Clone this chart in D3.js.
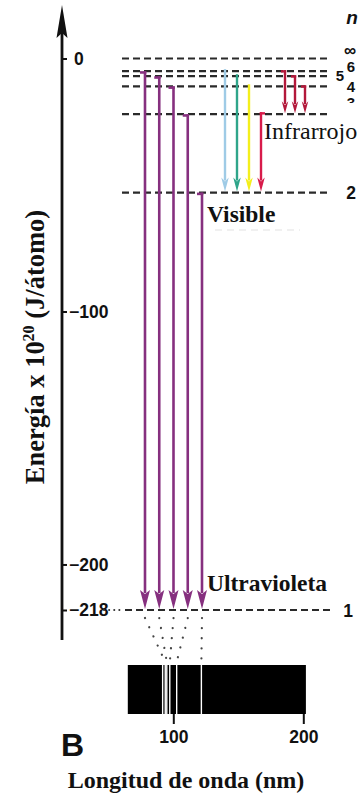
<!DOCTYPE html>
<html>
<head>
<meta charset="utf-8">
<script src="https://cdn.jsdelivr.net/npm/d3@7"></script>
<style>
  html, body { margin: 0; padding: 0; background: #fff; }
  svg { display: block; }
  .sans { font-family: "Liberation Sans", Arial, sans-serif; font-weight: bold; }
  .serif { font-family: "Liberation Serif", "Times New Roman", serif; }
</style>
</head>
<body>
<svg id="chart" width="364" height="796"></svg>
<script>
// Hydrogen energy levels (energy x 10^20 J/atom)
const levelNames    = ["∞", "6", "5", "4", "3", "2", "1"];
const levelEnergies = [0, -5, -7, -11, -22, -53, -218];
const energyTicks   = [0, -100, -200, -218];

// Emission series: upper levels that fall to the lower level
const lymanFrom   = ["6", "5", "4", "3", "2"];   // -> n = 1 (ultraviolet)
const balmerFrom  = ["6", "5", "4", "3"];        // -> n = 2 (visible)
const paschenFrom = ["6", "5", "4"];             // -> n = 3 (infrared)
const balmerColors = ["#9fcbe6", "#2fa58a", "#f4ef1c", "#d81b4a"];

// Lyman lines on the spectrum strip (nm)
const lymanWavelengths = [93.8, 95.0, 97.3, 102.6, 121.6];
const seriesLimit      = [91.8];
const spectrumRange    = [65, 202];
const wavelengthTicks  = [100, 200];

const svg = d3.select("#chart");
const energyOf = Object.fromEntries(levelNames.map((n, i) => [n, levelEnergies[i]]));

const y = d3.scaleLinear().domain([0, -218]).range([58.5, 610]);
const w = d3.scaleLinear().domain([100, 200]).range([173.3, 303.3]);
const lymanX   = d3.scalePoint().domain(lymanFrom).range([145, 202]);
const balmerX  = d3.scalePoint().domain(balmerFrom).range([225, 261]);
const paschenX = d3.scalePoint().domain(paschenFrom).range([285, 305]);

const lineLeft = 122, lineRight = 330;

// ---- energy axis ----
const axisX = 62;
svg.append("line")
  .attr("x1", axisX).attr("x2", axisX)
  .attr("y1", 30).attr("y2", 640)
  .attr("stroke", "#111").attr("stroke-width", 2.8);
svg.append("path")
  .attr("d", `M${axisX},5 L${axisX + 5.5},38 L${axisX},33 L${axisX - 5.5},38 Z`)
  .attr("fill", "#111");

const axis = d3.axisRight(y)
  .tickValues(energyTicks)
  .tickSize(5)
  .tickPadding(2)
  .tickFormat(d => d === 0 ? "0" : "\u2212" + Math.abs(d));
const gAxis = svg.append("g")
  .attr("transform", `translate(${axisX},0)`)
  .call(axis);
gAxis.select(".domain").remove();
gAxis.selectAll(".tick line").attr("stroke", "#111").attr("stroke-width", 2);
gAxis.selectAll(".tick text")
  .attr("class", "sans")
  .attr("font-size", 17.5)
  .attr("fill", "#111")
  .attr("dx", d => d === 0 ? 5 : 0);

// ---- energy level lines ----
const levelG = svg.append("g");
levelNames.forEach((n, i) => {
  const yy = y(levelEnergies[i]);
  levelG.append("line")
    .attr("x1", n === "1" ? 125 : lineLeft).attr("x2", lineRight)
    .attr("y1", yy).attr("y2", yy)
    .attr("stroke", "#2a2a2a").attr("stroke-width", 2.2)
    .attr("stroke-dasharray", "7,4");
});
// dotted leader after the -218 label
levelG.append("line")
  .attr("x1", 104).attr("x2", 124)
  .attr("y1", y(-218)).attr("y2", y(-218))
  .attr("stroke", "#333").attr("stroke-width", 2)
  .attr("stroke-linecap", "round")
  .attr("stroke-dasharray", "0.1,5");

// level names on the right (the upper ones are packed tightly)
const labelPos = { "∞": [350, -3, 17], "6": [351, 1, 15], "5": [340, 5, 15], "4": [351, 6, 15], "3": [351, -6, 15], "2": [351, 6, 17.5], "1": [348, 7, 17.5] };
levelNames.forEach((n, i) => {
  const [lx, dy, fs] = labelPos[n];
  svg.append("text")
    .attr("class", "sans")
    .attr("x", lx).attr("y", y(levelEnergies[i]) + dy)
    .attr("text-anchor", "middle")
    .attr("font-size", fs)
    .attr("fill", "#111")
    .text(n);
});
svg.append("text")
  .attr("class", "sans")
  .attr("x", 352).attr("y", 24)
  .attr("text-anchor", "middle")
  .attr("font-size", 19)
  .attr("font-style", "italic")
  .attr("fill", "#111")
  .text("n");

// ---- transition arrows ----
function arrow(g, x, yTop, yTip, color, width, headLen, headW, hook) {
  g.append("line")
    .attr("x1", x).attr("x2", x)
    .attr("y1", yTop).attr("y2", yTip - headLen + 3)
    .attr("stroke", color).attr("stroke-width", width);
  if (hook) {
    g.append("line")
      .attr("x1", x + hook).attr("x2", x + (hook > 0 ? -width / 2 : width / 2))
      .attr("y1", yTop + width / 2).attr("y2", yTop + width / 2)
      .attr("stroke", color).attr("stroke-width", width);
  }
  g.append("path")
    .attr("d", `M${x},${yTip} L${x - headW / 2},${yTip - headLen} L${x},${yTip - headLen + 4} L${x + headW / 2},${yTip - headLen} Z`)
    .attr("fill", color);
}

const arrowsG = svg.append("g");
lymanFrom.forEach(n => {
  arrow(arrowsG, lymanX(n), y(energyOf[n]), y(energyOf["1"]) - 1, "#86307f", 2.6, 19, 10, -5);
});
balmerFrom.forEach((n, i) => {
  arrow(arrowsG, balmerX(n), y(energyOf[n]) - 2, y(energyOf["2"]) - 1, balmerColors[i], 2.4, 14, 7.5, n === "3" ? 4 : 0);
});
paschenFrom.forEach(n => {
  arrow(arrowsG, paschenX(n), y(energyOf[n]) - 1, y(energyOf["3"]) - 1, "#b3183a", 2.4, 12, 6.5, -4);
});

// ---- region labels ----
svg.append("rect").attr("x", 335).attr("y", 103).attr("width", 29).attr("height", 14).attr("fill", "#fff");
svg.append("rect").attr("x", 263).attr("y", 118).attr("width", 101).attr("height", 30).attr("fill", "#fff");
svg.append("text").attr("class", "serif")
  .attr("x", 264).attr("y", 139)
  .attr("font-size", 24).attr("fill", "#111")
  .text("Infrarrojo");
svg.append("text").attr("class", "serif")
  .attr("x", 207).attr("y", 222)
  .attr("font-size", 23.5).attr("font-weight", "bold").attr("fill", "#111")
  .text("Visible");
svg.append("line")
  .attr("x1", 215).attr("x2", 300).attr("y1", 230).attr("y2", 230)
  .attr("stroke", "#e2e2e2").attr("stroke-width", 1.2).attr("stroke-dasharray", "7,5");
svg.append("text").attr("class", "serif")
  .attr("x", 207).attr("y", 591)
  .attr("font-size", 23.5).attr("font-weight", "bold").attr("fill", "#111")
  .text("Ultravioleta");

// ---- spectrum strip ----
const barTop = 665, barBottom = 714;
svg.append("rect")
  .attr("x", w(spectrumRange[0])).attr("y", barTop)
  .attr("width", w(spectrumRange[1]) - w(spectrumRange[0]))
  .attr("height", barBottom - barTop)
  .attr("fill", "#000");
svg.append("g").selectAll("line")
  .data(seriesLimit.concat(lymanWavelengths))
  .join("line")
  .attr("x1", d => w(d)).attr("x2", d => w(d))
  .attr("y1", barTop).attr("y2", barBottom)
  .attr("stroke", "#fff").attr("stroke-width", 1.4);

// dotted links from each Lyman arrow to its spectral line
svg.append("g").selectAll("line")
  .data(lymanFrom.map((n, i) => ({ x0: lymanX(n), x1: w(lymanWavelengths[i]) })))
  .join("line")
  .attr("x1", d => d.x0).attr("x2", d => d.x1)
  .attr("y1", y(-218) + 8).attr("y2", barTop - 3)
  .attr("stroke", "#444").attr("stroke-width", 2.2)
  .attr("stroke-linecap", "round")
  .attr("stroke-dasharray", "0.1,10");

const wAxis = d3.axisBottom(w).tickValues(wavelengthTicks).tickSize(10).tickPadding(7);
const gw = svg.append("g").attr("transform", `translate(0,${barBottom})`).call(wAxis);
gw.select(".domain").remove();
gw.selectAll(".tick line").attr("stroke", "#111").attr("stroke-width", 2);
gw.selectAll(".tick text").attr("class", "sans").attr("font-size", 17.5).attr("fill", "#111");

// ---- panel letter and axis titles ----
svg.append("text").attr("class", "sans")
  .attr("x", 61).attr("y", 756)
  .attr("font-size", 32).attr("fill", "#111")
  .text("B");

svg.append("text").attr("class", "serif")
  .attr("x", 186).attr("y", 788)
  .attr("text-anchor", "middle")
  .attr("font-size", 24).attr("font-weight", "bold").attr("fill", "#111")
  .text("Longitud de onda (nm)");

const title = svg.append("text").attr("class", "serif")
  .attr("transform", "translate(44,347) rotate(-90)")
  .attr("text-anchor", "middle")
  .attr("font-size", 26.5).attr("font-weight", "bold").attr("fill", "#111");
title.append("tspan").text("Energía x 10");
title.append("tspan").attr("font-size", 16).attr("dy", -10).text("20");
title.append("tspan").attr("dy", 10).text(" (J/átomo)");
</script>
</body>
</html>
